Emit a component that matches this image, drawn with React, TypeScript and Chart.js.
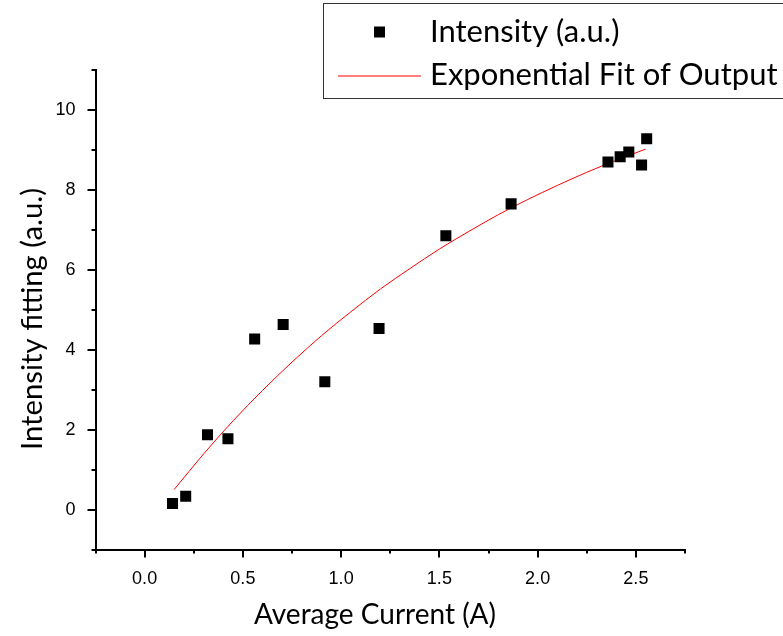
import React, { useEffect, useRef } from 'react';
import { Chart, registerables } from 'chart.js';
Chart.register(...registerables);

// Measured data (Average Current in A, Intensity in a.u.)
const currentA = [0.142, 0.209, 0.32, 0.424, 0.56, 0.705, 0.917, 1.193, 1.533, 1.865, 2.358, 2.42, 2.464, 2.529, 2.555];
const intensity = [0.15, 0.33, 1.87, 1.77, 4.27, 4.63, 3.2, 4.53, 6.85, 7.65, 8.7, 8.83, 8.95, 8.62, 9.28];

// Exponential fit curve
const fitX = [0.15, 0.3, 0.45, 0.6, 0.75, 0.9, 1.05, 1.2, 1.35, 1.5, 1.65, 1.8, 1.95, 2.1, 2.25, 2.4, 2.55];
const fitY = [0.5, 1.39, 2.22, 2.98, 3.69, 4.35, 4.95, 5.52, 6.03, 6.52, 6.96, 7.38, 7.76, 8.11, 8.44, 8.74, 9.02];

// Axis ticks
const xMajor = [0, 0.5, 1.0, 1.5, 2.0, 2.5];
const xMinor = [-0.25, 0.25, 0.75, 1.25, 1.75, 2.25, 2.75];
const xLabels = ['0.0', '0.5', '1.0', '1.5', '2.0', '2.5'];
const yMajor = [0, 2, 4, 6, 8, 10];
const yMinor = [-1, 1, 3, 5, 7, 9, 11];
const yLabels = ['0', '2', '4', '6', '8', '10'];

const seriesLabels = ['Intensity (a.u.)', 'Exponential Fit of Output'];
const xTitle = 'Average Current (A)';
const yTitle = 'Intensity fitting (a.u.)';

const TITLE_FONT = 'Lato, "Open Sans", sans-serif';
const TICK_FONT = '"Liberation Sans", Arial, sans-serif';

const tickPlugin = {
  id: 'originTicks',
  afterDraw(chart: any) {
    const ctx = chart.ctx;
    const xs = chart.scales.x;
    const ys = chart.scales.y;
    const area = chart.chartArea;
    ctx.save();
    ctx.strokeStyle = '#000';
    ctx.lineWidth = 2;
    const bottom = area.bottom;
    const left = area.left;
    const drawX = (vals: number[], len: number) => {
      vals.forEach((v) => {
        const px = Math.round(xs.getPixelForValue(v));
        ctx.beginPath();
        ctx.moveTo(px, bottom);
        ctx.lineTo(px, bottom + len);
        ctx.stroke();
      });
    };
    const drawY = (vals: number[], len: number) => {
      vals.forEach((v) => {
        const py = Math.round(ys.getPixelForValue(v));
        ctx.beginPath();
        ctx.moveTo(left, py);
        ctx.lineTo(left - len, py);
        ctx.stroke();
      });
    };
    drawX(xMajor, 8);
    drawX(xMinor, 4);
    drawY(yMajor, 8);
    drawY(yMinor, 4);

    // axis titles
    ctx.fillStyle = '#000';
    ctx.textBaseline = 'alphabetic';
    ctx.textAlign = 'center';
    ctx.font = '28px ' + TITLE_FONT;
    ctx.fillText(xTitle, 375, 624);
    ctx.translate(42, 319);
    ctx.rotate(-Math.PI / 2);
    ctx.font = '29.3px ' + TITLE_FONT;
    ctx.fillText(yTitle, 0, 0);
    ctx.restore();
  },
};

const legendPlugin = {
  id: 'boxLegend',
  afterDraw(chart: any) {
    const ctx = chart.ctx;
    const ds = chart.data.datasets;
    ctx.save();
    ctx.fillStyle = '#fff';
    ctx.fillRect(323.5, 3.5, 470, 95);
    ctx.strokeStyle = '#333';
    ctx.lineWidth = 1;
    ctx.strokeRect(323.5, 3.5, 470, 95);
    ctx.fillStyle = '#000';
    ctx.fillRect(374, 26.5, 11, 11);
    ctx.strokeStyle = '#ff0000';
    ctx.beginPath();
    ctx.moveTo(338, 76);
    ctx.lineTo(421, 76);
    ctx.stroke();
    ctx.fillStyle = '#000';
    ctx.font = '31px ' + TITLE_FONT;
    ctx.textBaseline = 'alphabetic';
    ctx.textAlign = 'left';
    ctx.fillText(ds[0].label, 430, 42);
    ctx.fillText(ds[1].label, 430, 85);
    ctx.restore();
  },
};

export default function App() {
  const ref = useRef<HTMLCanvasElement | null>(null);
  useEffect(() => {
    if (!ref.current) return;
    const chart = new Chart(ref.current, {
      type: 'scatter',
      data: {
        datasets: [
          {
            label: seriesLabels[0],
            data: currentA.map((x, i) => ({ x, y: intensity[i] })),
            pointStyle: 'rect',
            pointRadius: 7.8,
            pointHoverRadius: 7.8,
            backgroundColor: '#000',
            borderWidth: 0,
            showLine: false,
          },
          {
            label: seriesLabels[1],
            data: fitX.map((x, i) => ({ x, y: fitY[i] })),
            showLine: true,
            borderColor: '#ff0000',
            borderWidth: 1,
            pointRadius: 0,
            cubicInterpolationMode: 'monotone',
          },
        ],
      },
      options: {
        animation: false,
        responsive: false,
        maintainAspectRatio: false,
        layout: { padding: { left: 0, top: 70, right: 98, bottom: 0 } },
        plugins: { legend: { display: false }, tooltip: { enabled: false } },
        scales: {
          x: {
            type: 'linear',
            min: -0.25,
            max: 2.75,
            afterBuildTicks: (s: any) => {
              s.ticks = xMajor.map((v) => ({ value: v }));
            },
            afterFit: (s: any) => {
              s.height = 86.5;
            },
            grid: { display: false },
            border: { display: true, color: '#000', width: 2 },
            ticks: {
              padding: 11,
              color: '#000',
              font: { family: TICK_FONT, size: 18 },
              maxRotation: 0,
              callback: (v: any) => {
                const i = xMajor.indexOf(Number(v));
                return i >= 0 ? xLabels[i] : '';
              },
            },
            title: { display: false },
          },
          y: {
            type: 'linear',
            min: -1,
            max: 11,
            afterBuildTicks: (s: any) => {
              s.ticks = yMajor.map((v) => ({ value: v }));
            },
            afterFit: (s: any) => {
              s.width = 95.5;
            },
            grid: { display: false },
            border: { display: true, color: '#000', width: 2 },
            ticks: {
              padding: 12,
              color: '#000',
              font: { family: TICK_FONT, size: 18 },
              callback: (v: any) => {
                const i = yMajor.indexOf(Number(v));
                return i >= 0 ? yLabels[i] : '';
              },
            },
            title: { display: false },
          },
        },
      },
      plugins: [tickPlugin, legendPlugin],
    } as any);
    return () => chart.destroy();
  }, []);
  return (
    <div style={{ position: 'absolute', left: 0, top: 0, width: 783, height: 636, background: '#fff' }}>
      <canvas ref={ref} width={783} height={636} style={{ display: 'block' }} />
    </div>
  );
}
